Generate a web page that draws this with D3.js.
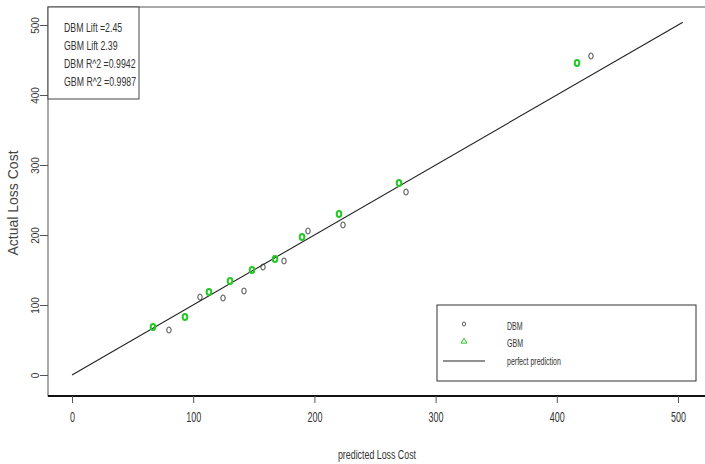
<!DOCTYPE html>
<html lang="en">
<head>
  <meta charset="UTF-8">
  <title>Lift chart</title>
  <script src="https://d3js.org/d3.v7.min.js"></script>
  <style>
    html, body { margin: 0; padding: 0; background: #fff; }
    text { font-family: Arial, "Liberation Sans", sans-serif; fill: #333; }
  </style>
</head>
<body>
  <div id="container"></div>
  <script>
    // data
    const dbmPred   = [80, 105.6, 124.6, 141.9, 157.6, 174.9, 194.7, 223.6, 275.6, 428.2]
    const dbmActual = [64.3, 111.4, 110, 120, 154.3, 162.9, 205.7, 214.3, 261.4, 455.7]
    const gbmPred   = [66.8, 93.2, 113, 130.4, 148.5, 167.5, 189.8, 220.3, 269.8, 416.7]
    const gbmActual = [68.6, 82.9, 118.6, 134.3, 150, 165.7, 197, 230, 274.3, 445.7]
    const perfectLine = [0, 504]
    const ticks = [0, 100, 200, 300, 400, 500]
    const statLines = ['DBM Lift =2.45', 'GBM Lift 2.39', 'DBM R^2 =0.9942', 'GBM R^2 =0.9987']
    const legendLabels = ['DBM', 'GBM', 'perfect prediction']

    const width = 705, height = 464
    const box = {left: 48, top: 7, right: 706, bottom: 396}
    const green = '#22c922'

    const svg = d3.select('#container').append('svg')
      .attr('width', width).attr('height', height)

    const x = d3.scaleLinear().domain([0, 500]).range([72, 678])
    const y = d3.scaleLinear().domain([0, 500]).range([375, 25])

    // plot box
    svg.append('rect')
      .attr('x', box.left).attr('y', box.top)
      .attr('width', box.right - box.left).attr('height', box.bottom - box.top)
      .attr('fill', 'none').attr('stroke', '#555').attr('stroke-width', 1)
    svg.append('line')
      .attr('x1', box.left).attr('x2', width).attr('y1', box.bottom).attr('y2', box.bottom)
      .attr('stroke', '#111').attr('stroke-width', 2)

    // x axis
    const xAxis = svg.append('g')
      .attr('transform', `translate(0,${box.bottom})`)
      .call(d3.axisBottom(x).tickValues(ticks).tickSize(7).tickFormat(d3.format('d')))
    xAxis.select('.domain').remove()
    xAxis.selectAll('.tick line').attr('stroke', '#555')
    xAxis.selectAll('.tick text')
      .attr('y', 0).attr('dy', 0)
      .attr('transform', 'translate(0,26) scale(0.62,1)')
      .style('font-size', '14.5px')

    // y axis
    const yAxis = svg.append('g')
      .attr('transform', `translate(${box.left},0)`)
      .call(d3.axisLeft(y).tickValues(ticks).tickSize(8).tickFormat(d3.format('d')))
    yAxis.select('.domain').remove()
    yAxis.selectAll('.tick line').attr('stroke', '#555')
    yAxis.selectAll('.tick text')
      .attr('x', 0).attr('dy', 0)
      .attr('text-anchor', 'middle')
      .attr('transform', 'translate(-9,0) rotate(-90)')
      .style('font-size', '10px')

    // axis titles
    svg.append('text')
      .attr('transform', 'translate(377,459) scale(0.68,1)')
      .attr('text-anchor', 'middle')
      .style('font-size', '13px')
      .text('predicted Loss Cost')
    svg.append('text')
      .attr('transform', 'translate(18,203) rotate(-90)')
      .attr('text-anchor', 'middle')
      .style('font-size', '14px')
      .style('fill', '#444')
      .text('Actual Loss Cost')

    // perfect prediction line
    svg.append('line')
      .attr('x1', x(perfectLine[0])).attr('y1', y(perfectLine[0]))
      .attr('x2', x(perfectLine[1])).attr('y2', y(perfectLine[1]))
      .attr('stroke', '#222').attr('stroke-width', 1.1)

    // DBM points
    svg.selectAll('.dbm').data(dbmPred).enter().append('ellipse')
      .attr('class', 'dbm')
      .attr('cx', d => x(d)).attr('cy', (d, i) => y(dbmActual[i]))
      .attr('rx', 2.2).attr('ry', 3)
      .attr('fill', 'none').attr('stroke', '#333').attr('stroke-width', 0.9)

    // GBM points
    svg.selectAll('.gbm').data(gbmPred).enter().append('ellipse')
      .attr('class', 'gbm')
      .attr('cx', d => x(d)).attr('cy', (d, i) => y(gbmActual[i]))
      .attr('rx', 2.3).attr('ry', 3)
      .attr('fill', 'none').attr('stroke', green).attr('stroke-width', 2)

    // stats box top-left
    svg.append('rect')
      .attr('x', box.left).attr('y', box.top).attr('width', 91).attr('height', 92)
      .attr('fill', '#fff').attr('stroke', '#444')
    svg.selectAll('.stat').data(statLines).enter().append('text')
      .attr('class', 'stat')
      .attr('transform', (d, i) => `translate(64,${32 + i * 18}) scale(0.73,1)`)
      .style('font-size', '12px')
      .text(d => d)

    // legend bottom-right
    const lg = svg.append('g')
    lg.append('rect')
      .attr('x', 437).attr('y', 305).attr('width', 259).attr('height', 76)
      .attr('fill', '#fff').attr('stroke', '#333')
    lg.append('ellipse')
      .attr('cx', 464).attr('cy', 324).attr('rx', 1.6).attr('ry', 2)
      .attr('fill', 'none').attr('stroke', '#333').attr('stroke-width', 0.8)
    lg.append('path')
      .attr('d', d3.symbol().type(d3.symbolTriangle).size(14))
      .attr('transform', 'translate(464,341.5)')
      .attr('fill', 'none').attr('stroke', green).attr('stroke-width', 1)
    lg.append('line')
      .attr('x1', 443).attr('x2', 485).attr('y1', 361).attr('y2', 361)
      .attr('stroke', '#222').attr('stroke-width', 1.1)
    lg.selectAll('.lab').data(legendLabels).enter().append('text')
      .attr('class', 'lab')
      .attr('transform', (d, i) => `translate(507,${[330, 347, 365][i]}) scale(0.64,1)`)
      .style('font-size', '11px')
      .text(d => d)
  </script>
</body>
</html>
